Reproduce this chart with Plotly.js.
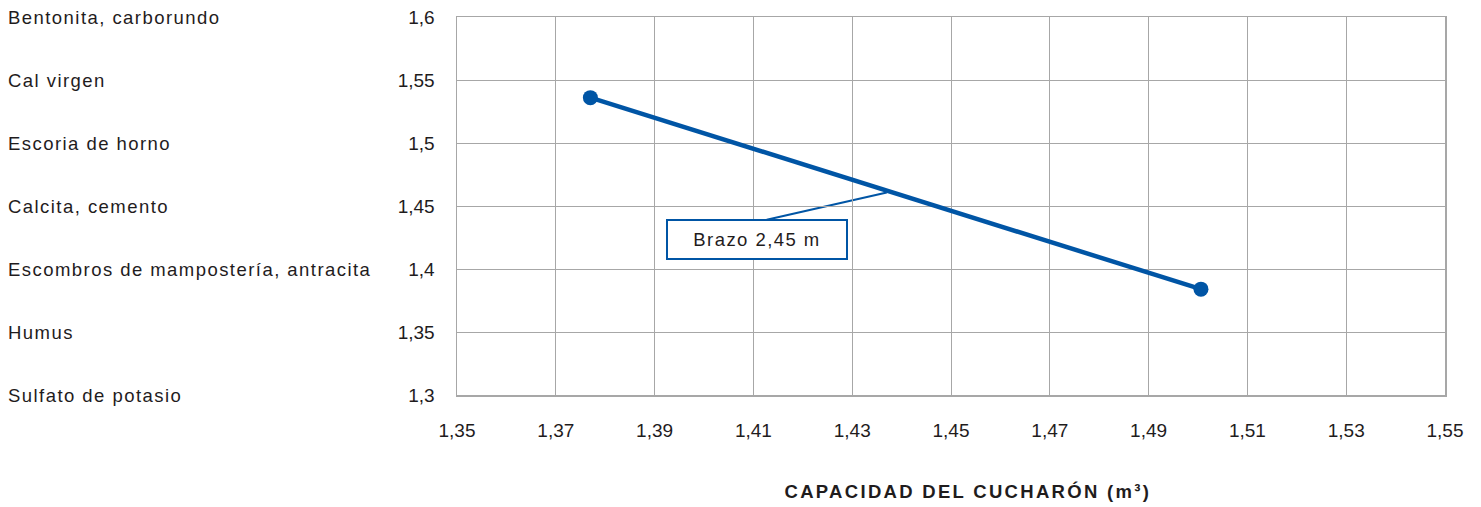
<!DOCTYPE html>
<html>
<head>
<meta charset="utf-8">
<script src="https://cdn.plot.ly/plotly-3.0.1.min.js"></script>
<style>
html,body{margin:0;padding:0;background:#fff;}
#chart{width:1481px;height:507px;}
.annotation-text{letter-spacing:1.45px;}
#chart .annotation[data-index="8"] .annotation-text{letter-spacing:2.3px;}
</style>
</head>
<body>
<div id="chart"></div>
<script>
// Data
const capacidad = [1.377, 1.5006];
const densidad = [1.536, 1.384];
const serieNombre = 'Brazo 2,45 m';
const materiales = ['Bentonita, carborundo', 'Cal virgen', 'Escoria de horno', 'Calcita, cemento',
  'Escombros de mampostería, antracita', 'Humus', 'Sulfato de potasio'];
const materialesY = [1.6, 1.55, 1.5, 1.45, 1.4, 1.35, 1.3];
const etiquetaPunto = [1.437, 1.4607];
const etiquetaCaja = [1.4108, 1.4235];
const etiquetaLineaFin = [1.4127, 1.4391];
const xTitulo = 'CAPACIDAD DEL CUCHARÓN (m³)';

const blue = '#0055a5';
const txt = '#1f1c1d';
const gridc = '#a7a7a7';
const fontFam = 'Liberation Sans, Arial, Helvetica, sans-serif';

const W = 1481, H = 507;
const mL = 457, mR = 36, mT = 17, mB = 111.5;
const plotW = W - mL - mR;

const annotations = materiales.map((m, i) => ({
  text: m, xref: 'paper', yref: 'y', x: (6 - mL) / plotW, y: materialesY[i],
  xanchor: 'left', yanchor: 'middle', showarrow: false,
  font: {family: fontFam, size: 18.5, color: txt}
}));
annotations.push({
  text: serieNombre, xref: 'x', yref: 'y', x: etiquetaCaja[0], y: etiquetaCaja[1],
  showarrow: false, xanchor: 'center', yanchor: 'middle',
  bordercolor: blue, borderwidth: 2, bgcolor: '#ffffff', width: 176, height: 35,
  font: {family: fontFam, size: 18.5, color: txt}
});
annotations.push({
  text: '<b>' + xTitulo + '</b>', xref: 'paper', yref: 'paper',
  x: (967.5 - mL) / plotW, y: -(492 - (H - mB)) / (H - mT - mB),
  xanchor: 'center', yanchor: 'middle', showarrow: false,
  font: {family: fontFam, size: 18.5, color: txt}
});

const data = [{
  x: capacidad, y: densidad, type: 'scatter', mode: 'lines+markers',
  name: serieNombre,
  line: {color: blue, width: 4.5},
  marker: {color: blue, size: 15},
  hoverinfo: 'x+y'
}];

const layout = {
  width: W, height: H,
  margin: {l: mL, r: mR, t: mT, b: mB},
  paper_bgcolor: '#fff', plot_bgcolor: '#fff',
  separators: ',.',
  showlegend: false,
  font: {family: fontFam, size: 19, color: txt},
  xaxis: {
    range: [1.35, 1.55], tick0: 1.35, dtick: 0.02, tickmode: 'linear',
    showgrid: true, gridcolor: gridc, gridwidth: 1,
    showline: true, linecolor: gridc, linewidth: 1.5, mirror: true,
    zeroline: false, ticks: '', ticklabelstandoff: 18,
    tickfont: {family: fontFam, size: 19, color: txt}
  },
  yaxis: {
    range: [1.3, 1.6], tick0: 1.3, dtick: 0.05, tickmode: 'linear',
    showgrid: true, gridcolor: gridc, gridwidth: 1,
    showline: true, linecolor: gridc, linewidth: 1.5, mirror: true,
    zeroline: false, ticks: '', ticklabelstandoff: 17,
    tickfont: {family: fontFam, size: 19, color: txt}
  },
  shapes: [{
    type: 'line', xref: 'x', yref: 'y',
    x0: etiquetaPunto[0], y0: etiquetaPunto[1], x1: etiquetaLineaFin[0], y1: etiquetaLineaFin[1],
    line: {color: blue, width: 2}, layer: 'below'
  }],
  annotations: annotations
};

Plotly.newPlot('chart', data, layout, {displayModeBar: false, staticPlot: true});
</script>
</body>
</html>
